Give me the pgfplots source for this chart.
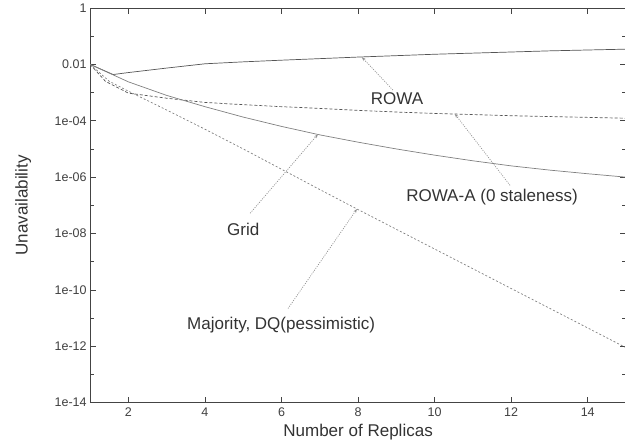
\documentclass[border=0pt]{standalone}
\usepackage{fontspec}
\setmainfont{Liberation Sans}
\usepackage{pgfplots}
\pgfplotsset{compat=1.18}
\usetikzlibrary{arrows.meta}
\definecolor{axgray}{HTML}{444444}
\definecolor{lgray}{HTML}{555555}
\definecolor{lgray2}{HTML}{808080}
\definecolor{agray}{HTML}{909090}
\begin{document}
\begin{tikzpicture}
\begin{axis}[
  scale only axis,
  width=535pt, height=394pt,
  xmin=1, xmax=15,
  ymin=1e-14, ymax=1,
  ymode=log,
  xtick={2,4,6,8,10,12,14},
  ytick={1e-14,1e-12,1e-10,1e-8,1e-6,1e-4,1e-2,1},
  yticklabels={1e-14,1e-12,1e-10,1e-08,1e-06,1e-04,0.01,1},
  minor ytick={1e-13,1e-11,1e-9,1e-7,1e-5,1e-3,1e-1},
  tick align=inside,
  major tick length=6pt,
  minor tick length=4pt,
  tick style={axgray, line width=0.6pt},
  axis line style={axgray, line width=0.8pt},
  /pgf/number format/assume math mode=true,
  tick label style={font=\fontsize{12.5}{14}\selectfont, text=black!75},
  xticklabel style={yshift=-2pt},
  label style={font=\fontsize{17}{20}\selectfont, text=black!80},
  xlabel={Number of Replicas},
  ylabel={Unavailability},
  xlabel style={at={(axis description cs:0.5,-0.074)}, anchor=center},
  ylabel style={at={(axis description cs:-0.125,0.5)}, anchor=center},
  clip=true,
]
% ROWA
\addplot[lgray, line width=0.7pt] coordinates {
(1,1e-2) (1.6,4.37e-3) (2,5.13e-3) (3,7.41e-3) (4,1.05e-2) (5,1.23e-2)
(6,1.41e-2) (7,1.60e-2) (8,1.82e-2) (9,2.04e-2) (10,2.29e-2) (11,2.51e-2)
(12,2.75e-2) (13,3.02e-2) (14,3.24e-2) (15,3.47e-2)};
% ROWA-A
\addplot[lgray, line width=0.7pt, dash pattern=on 3pt off 2pt] coordinates {
(1,1e-2) (1.4,2.51e-3) (2,9.55e-4) (3,6.31e-4) (4,4.47e-4) (5,3.72e-4)
(6,3.16e-4) (7,2.75e-4) (8,2.34e-4) (9,2.04e-4) (10,1.82e-4) (11,1.66e-4)
(12,1.51e-4) (13,1.41e-4) (14,1.32e-4) (15,1.23e-4)};
% Grid
\addplot[lgray2, line width=0.7pt] coordinates {
(1,1e-2) (2,2.40e-3) (3,7.94e-4) (4,3.16e-4) (5,1.35e-4) (6,6.31e-5)
(7,3.16e-5) (8,1.74e-5) (9,1.0e-5) (10,6.03e-6) (11,3.80e-6) (12,2.51e-6)
(13,1.78e-6) (14,1.32e-6) (15,1.0e-6)};
% Majority
\addplot[lgray2, line width=0.7pt, dash pattern=on 2pt off 2pt] coordinates {
(1,1e-2) (1.5,2.51e-3) (2,1.12e-3) (3,2.40e-4) (4,5.01e-5) (5,1e-5)
(6,1.91e-6) (7,3.63e-7) (8,7.08e-8) (9,1.41e-8) (10,2.82e-9) (11,5.62e-10)
(12,1.12e-10) (13,2.24e-11) (14,4.47e-12) (15,8.91e-13)};
% annotation arrows
\draw[agray, line width=0.7pt, dash pattern=on 1pt off 1.3pt, -{Stealth[length=4pt,width=3pt]}]
  (axis cs:8.91,1.23e-3) -- (axis cs:8.1,1.8e-2);
\draw[agray, line width=0.7pt, dash pattern=on 1pt off 1.3pt, -{Stealth[length=4pt,width=3pt]}]
  (axis cs:11.97,5.13e-7) -- (axis cs:10.53,1.74e-4);
\draw[agray, line width=0.7pt, dash pattern=on 1pt off 1.3pt, -{Stealth[length=4pt,width=3pt]}]
  (axis cs:5.18,5.25e-8) -- (axis cs:6.95,3.3e-5);
\draw[agray, line width=0.7pt, dash pattern=on 1pt off 1.3pt, -{Stealth[length=4pt,width=3pt]}]
  (axis cs:6.17,2.19e-11) -- (axis cs:7.97,7.4e-8);
% labels
\node[font=\fontsize{17}{20}\selectfont, text=black!80] at (axis cs:9.02,5.89e-4) {ROWA};
\node[font=\fontsize{17}{20}\selectfont, text=black!80] at (axis cs:11.5,1.95e-7) {ROWA-A (0 staleness)};
\node[font=\fontsize{17}{20}\selectfont, text=black!80] at (axis cs:5.0,1.41e-8) {Grid};
\node[font=\fontsize{17}{20}\selectfont, text=black!80] at (axis cs:5.99,5.5e-12) {Majority, DQ(pessimistic)};
\end{axis}
\pgfresetboundingbox
\path[use as bounding box] (current axis.south west) ++(-90pt,-42pt) rectangle ++(624pt,444pt);
\end{tikzpicture}
\end{document}
